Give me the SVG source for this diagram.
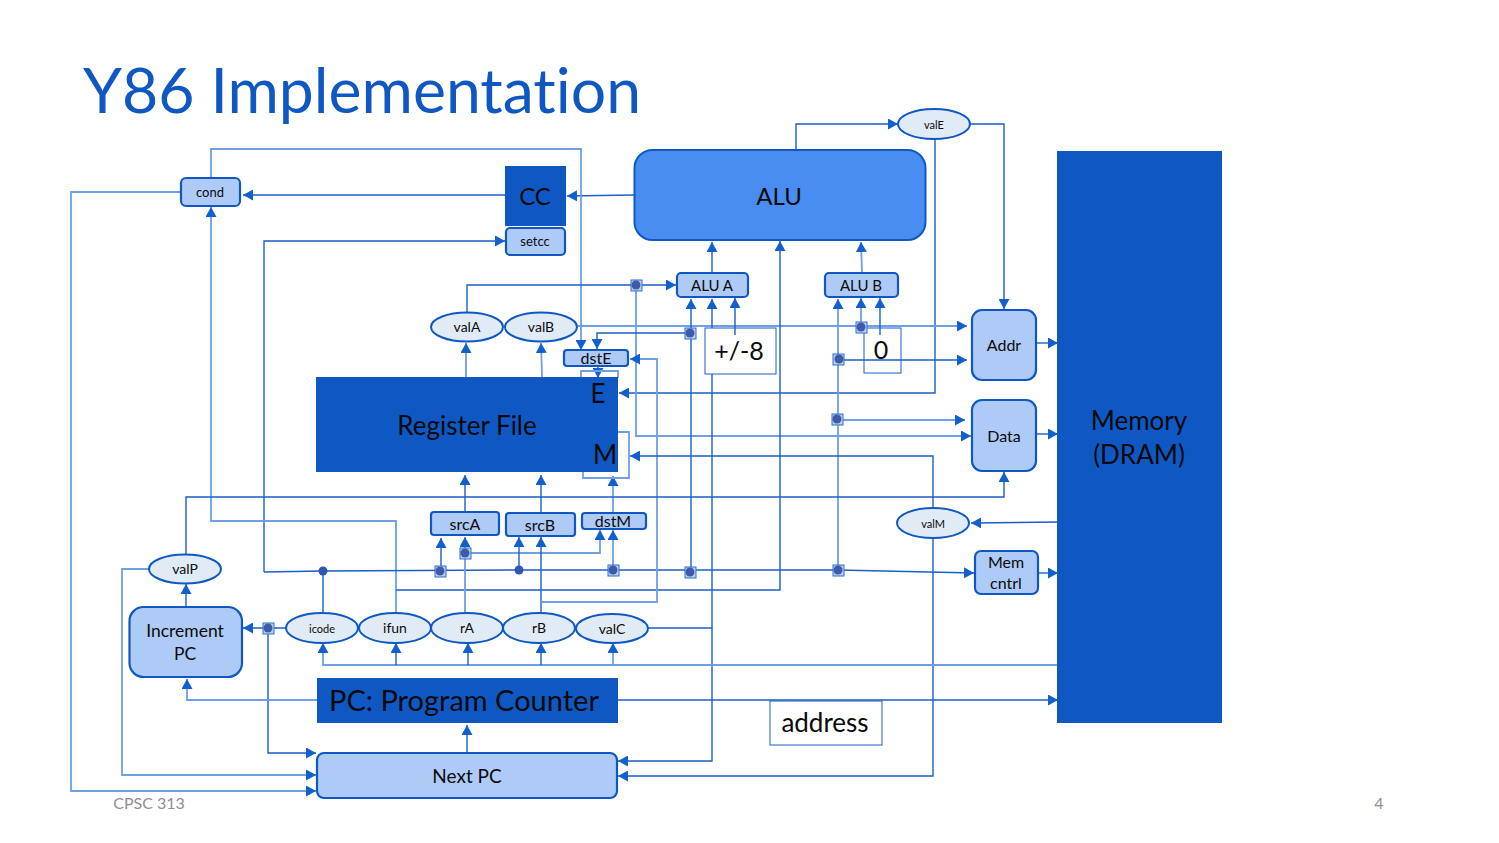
<svg xmlns="http://www.w3.org/2000/svg" width="1499" height="843" viewBox="0 0 1499 843">
<style>
text{font-family:"Lato","Open Sans","Liberation Sans",sans-serif;fill:#0a0a0a;text-anchor:middle;font-variant-ligatures:none}
.c{fill:none;stroke:#1a5fc8;stroke-width:1.4}
.l{fill:none;stroke:#6f9fe6;stroke-width:1.8}
.a{marker-end:url(#ah)}
.dark{fill:#0f58c4}
.mid{fill:#aecbf8;stroke:#0f58c4;stroke-width:2.2}
.el{fill:#e1ebf6;stroke:#0f58c4;stroke-width:2}
.wb{fill:#fff;stroke:#1a5fc8;stroke-width:1}
.sq{fill:#b9cff2;stroke:#2f6fd0;stroke-width:1}
.dot{fill:#3f5aa8}
.f14{font-size:14px}.f15{font-size:15px}.f16{font-size:16px}.f13{font-size:13px}.f11{font-size:11px}
</style>
<defs>
<marker id="ah" markerUnits="userSpaceOnUse" markerWidth="11" markerHeight="11" refX="10" refY="5.500" orient="auto"><path d="M0 0L10 5.500L0 11z" fill="#1160cc"/></marker>
</defs>
<text id="title" x="362" y="113" style="font-size:62px;fill:#0f58c4" textLength="558" lengthAdjust="spacingAndGlyphs">Y86 Implementation</text>
<g id="box-plus8"><rect class="wb" x="705" y="328" width="71" height="46"/><text x="739" y="360" style="font-size:25px">+/-8</text></g>
<g id="box-zero"><rect class="wb" x="864" y="328" width="37" height="45"/><text x="881" y="359" style="font-size:25px">0</text></g>
<g id="box-address"><rect class="wb" x="770" y="701" width="112" height="44"/><text x="825" y="732" style="font-size:26px">address</text></g>
<g id="connectors">
<path class="c a" d="M796 150V124H898"/>
<path class="c a" d="M970 124H1004V309"/>
<path class="c a" d="M935 139V393H619"/>
<path class="c a" d="M634 195L567 196"/>
<path class="c a" d="M505 195H243"/>
<path class="l a" d="M211 178V149H581V350"/>
<path class="l a" d="M181 192H71V791H316"/>
<path class="c a" d="M264 572V241H505"/>
<path class="l a" d="M396 612V521H211V207"/>
<path class="c a" d="M712 272V242"/>
<path class="l a" d="M862 272L861 242"/>
<path class="c a" d="M467 312V285H676"/>
<path class="l a" d="M636 285V436H971"/>
<path class="l a" d="M578 326H967"/>
<path class="c a" d="M690 333H597V349"/>
<path class="l a" d="M861 327V298"/>
<path class="c a" d="M880 335V298"/>
<path class="c a" d="M735 335V298"/>
<path class="c a" d="M691 572V299"/>
<path class="c a" d="M648 628H712V761H618"/>
<path class="c" d="M712 374V628"/>
<path class="c a" d="M712 328V299"/>
<path class="c a" d="M396 590H780V241"/>
<path class="l a" d="M838 570V299"/>
<path class="c a" d="M838 360H967"/>
<path class="l a" d="M837 420H965"/>
<path class="c a" d="M838 570L974 573"/>
<path class="c" d="M264 572L323 571L520 570L838 570"/>
<path class="c" d="M323 612V571"/>
<path class="c a" d="M287 628H243"/>
<path class="c a" d="M268 628V753H316"/>
<path class="c a" d="M441 571V538"/>
<path class="l a" d="M465 612V537"/>
<path class="l a" d="M465 553H600V530"/>
<path class="c a" d="M519 570V537"/>
<path class="c a" d="M541 612V537"/>
<path class="l a" d="M613 570V530"/>
<path class="l a" d="M541 602H657V359H630"/>
<path class="c a" d="M465 512V475"/>
<path class="c a" d="M541 512V475"/>
<path class="l a" d="M613 512V476"/>
<path class="l a" d="M466 377V343"/>
<path class="l a" d="M542 377L541 343"/>
<path class="c a" d="M598 366V378"/>
<path class="l" d="M581 377V371H618V378"/>
<path class="l" d="M618 432H629V478H583V472"/>
<path class="c a" d="M933 509V456H630"/>
<path class="c a" d="M933 538V776H618"/>
<path class="c a" d="M1057 522L971 523"/>
<path class="c a" d="M1038 573H1058"/>
<path class="c a" d="M1036 343H1058"/>
<path class="c a" d="M1036 434H1058"/>
<path class="c a" d="M186 554V497H1004V472"/>
<path class="l a" d="M150 569H122V775H316"/>
<path class="c a" d="M186 607V584"/>
<path class="l a" d="M317 700H187V679"/>
<path class="c a" d="M618 700H1058"/>
<path class="c a" d="M467 753V725"/>
<path class="l a" d="M1057 665H323V643"/>
<path class="c a" d="M396 665V643"/>
<path class="c a" d="M468 665V643"/>
<path class="c a" d="M541 665V643"/>
<path class="l a" d="M613 665V643"/>
<rect class="sq" x="631" y="280" width="11" height="11"/><circle class="dot" cx="636" cy="285" r="4.500"/>
<rect class="sq" x="685" y="328" width="11" height="11"/><circle class="dot" cx="690" cy="333" r="4.500"/>
<rect class="sq" x="856" y="322" width="11" height="11"/><circle class="dot" cx="861" cy="327" r="4.500"/>
<rect class="sq" x="833" y="354" width="11" height="11"/><circle class="dot" cx="839" cy="359" r="4.500"/>
<rect class="sq" x="832" y="414" width="11" height="11"/><circle class="dot" cx="837" cy="419" r="4.500"/>
<rect class="sq" x="833" y="565" width="11" height="11"/><circle class="dot" cx="838" cy="570" r="4.500"/>
<rect class="sq" x="685" y="567" width="11" height="11"/><circle class="dot" cx="690" cy="572" r="4.500"/>
<rect class="sq" x="608" y="565" width="11" height="11"/><circle class="dot" cx="613" cy="570" r="4.500"/>
<rect class="sq" x="435" y="566" width="11" height="11"/><circle class="dot" cx="440" cy="571" r="4.500"/>
<rect class="sq" x="460" y="548" width="11" height="11"/><circle class="dot" cx="465" cy="553" r="4.500"/>
<rect class="sq" x="263" y="623" width="11" height="11"/><circle class="dot" cx="268" cy="628" r="4.500"/>
<circle class="dot" cx="323" cy="571" r="4.500" style="fill:#2f57b0"/>
<circle class="dot" cx="519" cy="570" r="4.500" style="fill:#2f57b0"/>
</g>
<g id="alu"><rect x="634.500" y="150" width="291" height="90" rx="18" fill="#4a8df0" stroke="#0f58c4" stroke-width="2"/><text x="779" y="205" style="font-size:24px">ALU</text></g>
<g id="memory"><rect class="dark" x="1057" y="151" width="165" height="572"/><text x="1139" y="430" style="font-size:26px">Memory</text><text x="1139" y="464" style="font-size:26px">(DRAM)</text></g>
<g id="regfile"><rect class="dark" x="316" y="377" width="302" height="95"/><text x="467" y="435" style="font-size:26px">Register File</text><text x="598" y="403" style="font-size:26px">E</text><text x="605" y="464" style="font-size:26px">M</text></g>
<g id="cc"><rect class="dark" x="505" y="166" width="61" height="60"/><text x="535" y="205" style="font-size:24px">CC</text></g>
<g id="setcc"><rect class="mid" x="506" y="228" width="59" height="27" rx="4"/><text class="f13" x="535" y="246">setcc</text></g>
<g id="cond"><rect class="mid" x="181" y="178" width="59" height="28" rx="5"/><text class="f13" x="210" y="197">cond</text></g>
<g id="alua"><rect class="mid" x="677" y="273" width="71" height="24" rx="4"/><text class="f15" x="712" y="291">ALU A</text></g>
<g id="alub"><rect class="mid" x="825" y="273" width="73" height="24" rx="4"/><text class="f15" x="861" y="291">ALU B</text></g>
<g id="addr"><rect class="mid" x="972" y="310" width="64" height="70" rx="10"/><text class="f16" x="1004" y="351">Addr</text></g>
<g id="data"><rect class="mid" x="972" y="400" width="64" height="71" rx="10"/><text class="f16" x="1004" y="442">Data</text></g>
<g id="memcntrl"><rect class="mid" x="975" y="551" width="63" height="43" rx="6"/><text class="f16" x="1006" y="568">Mem</text><text class="f16" x="1006" y="589">cntrl</text></g>
<g id="incpc"><rect class="mid" x="129.500" y="607" width="112.500" height="70" rx="14"/><text x="185" y="637" style="font-size:17.500px">Increment</text><text x="185" y="660" style="font-size:17.500px">PC</text></g>
<g id="pc"><rect class="dark" x="317" y="678" width="301" height="45"/><text x="464" y="711" style="font-size:28px" textLength="270" lengthAdjust="spacingAndGlyphs">PC: Program Counter</text></g>
<g id="nextpc"><rect class="mid" x="317" y="753" width="300" height="45" rx="7"/><text x="467" y="783" style="font-size:19px">Next PC</text></g>
<g id="srca"><rect class="mid" x="431" y="512" width="68" height="23" rx="3"/><text class="f16" x="465" y="530">srcA</text></g>
<g id="srcb"><rect class="mid" x="506" y="513" width="69" height="23" rx="3"/><text class="f16" x="540" y="531">srcB</text></g>
<g id="dstm"><rect class="mid" x="582" y="513" width="64" height="16" rx="3"/><text class="f16" x="613" y="527">dstM</text></g>
<g id="dste"><rect class="mid" x="564" y="350" width="64" height="16" rx="3"/><text class="f16" x="596" y="364">dstE</text></g>
<g id="vala"><ellipse class="el" cx="467" cy="327" rx="36" ry="14.500"/><text class="f14" x="467" y="332">valA</text></g>
<g id="valb"><ellipse class="el" cx="541" cy="327" rx="36" ry="14.500"/><text class="f14" x="541" y="332">valB</text></g>
<g id="vale"><ellipse class="el" cx="934" cy="124" rx="36" ry="15"/><text class="f11" x="934" y="129">valE</text></g>
<g id="valm"><ellipse class="el" cx="933" cy="523" rx="36" ry="15"/><text class="f11" x="933" y="528">valM</text></g>
<g id="valp"><ellipse class="el" cx="185" cy="569" rx="36" ry="14.500"/><text class="f14" x="185" y="574">valP</text></g>
<g id="icode"><ellipse class="el" cx="322" cy="628" rx="36" ry="15"/><text class="f11" x="322" y="633">icode</text></g>
<g id="ifun"><ellipse class="el" cx="395" cy="628" rx="36" ry="15"/><text class="f14" x="395" y="633">ifun</text></g>
<g id="ra"><ellipse class="el" cx="467" cy="628" rx="36" ry="15"/><text class="f14" x="467" y="633">rA</text></g>
<g id="rb"><ellipse class="el" cx="539" cy="628" rx="36" ry="15"/><text class="f14" x="539" y="633">rB</text></g>
<g id="valc"><ellipse class="el" cx="612" cy="628.500" rx="36" ry="14.500"/><text class="f14" x="612" y="634">valC</text></g>
<text id="footer" x="149" y="809" style="font-size:16px;fill:#8f8f8f">CPSC 313</text>
<text id="pagenum" x="1379" y="809" style="font-size:16px;fill:#8f8f8f">4</text>
</svg>
